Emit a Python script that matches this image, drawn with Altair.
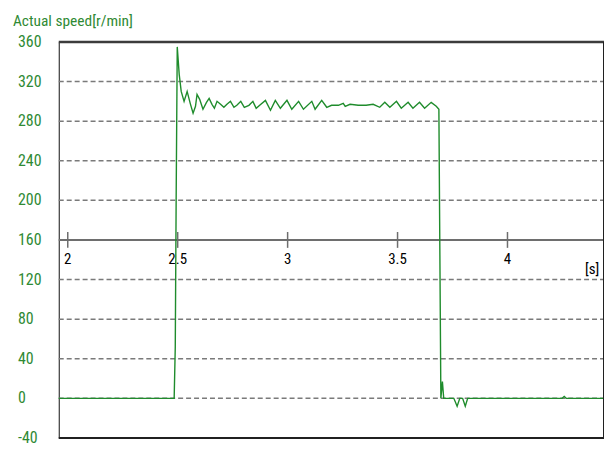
import altair as alt
import pandas as pd

# Signal samples (time [s], actual speed [r/min])
times = [1.959, 2.484, 2.489, 2.493, 2.498, 2.507, 2.516, 2.529, 2.543, 2.557,
         2.570, 2.581, 2.588, 2.600, 2.606, 2.615, 2.631, 2.643, 2.656, 2.667,
         2.679, 2.695, 2.710, 2.724, 2.740, 2.756, 2.769, 2.787, 2.803, 2.824,
         2.842, 2.857, 2.873, 2.899, 2.922, 2.944, 2.967, 2.997, 3.019, 3.050,
         3.072, 3.110, 3.125, 3.155, 3.178, 3.200, 3.231, 3.253, 3.262, 3.284,
         3.321, 3.357, 3.389, 3.419, 3.442, 3.465, 3.495, 3.517, 3.548, 3.570,
         3.600, 3.623, 3.653, 3.676, 3.688, 3.697, 3.704, 3.710, 3.756, 3.771,
         3.783, 3.796, 3.808, 3.819, 4.249, 4.258, 4.267, 4.439]
speeds = [0, 0, 52, 200, 355, 327, 310, 300, 310, 298,
          288, 295, 307, 302, 298, 292, 299, 303, 297, 293,
          300, 297, 294, 297, 300, 294, 296, 300, 294, 296,
          300, 293, 296, 301, 291, 301, 293, 301, 292, 300,
          292, 300, 292, 301, 294, 296, 296, 298, 295, 297,
          296, 296, 297, 294, 299, 294, 300, 293, 299, 293,
          299, 293, 299, 295, 292, 0, 17, 0, 0, -8,
          0, 0, -8, 0, 0, 2, 0, 0]

y_ticks = [-40, 0, 40, 80, 120, 160, 200, 240, 280, 320, 360]
y_tick_labels = ["-40", "0", "40", "80", "120", "160", "200", "240", "280", "320", "360"]
grid_values = [0, 40, 80, 120, 200, 240, 280, 320]
x_ticks = [2, 2.5, 3, 3.5, 4]
x_tick_labels = ["2", "2.5", "3", "3.5", "4"]
x_unit_label = ["[s]"]
x_unit_pos = [4.385]
y_unit_pos = [131]

X_DOMAIN = [1.959, 4.439]
Y_DOMAIN = [-40, 360]
AXIS_Y = 160

GREEN_TEXT = "#2f8a34"
GREEN_LINE = "#1f8c2c"
FONT = "Liberation Sans Narrow, Arial Narrow, Roboto Condensed, Roboto, sans-serif"

sig = pd.DataFrame({"t": times, "v": speeds})
ylab_df = pd.DataFrame({"t": [X_DOMAIN[0]] * len(y_ticks), "v": y_ticks, "lab": y_tick_labels})
grid_df = pd.DataFrame({"t": [X_DOMAIN[0]] * len(grid_values),
                        "t2": [X_DOMAIN[1]] * len(grid_values), "v": grid_values})
ticks_df = pd.DataFrame({"t": x_ticks, "lab": x_tick_labels, "y": [AXIS_Y] * len(x_ticks),
                         "y1": [AXIS_Y - 8] * len(x_ticks), "y2": [AXIS_Y + 8] * len(x_ticks)})
unit_df = pd.DataFrame({"t": x_unit_pos, "v": y_unit_pos, "lab": x_unit_label})
hline_df = pd.DataFrame({"t": [X_DOMAIN[0]], "t2": [X_DOMAIN[1]], "v": [AXIS_Y]})
top_df = pd.DataFrame({"t": [X_DOMAIN[0]], "t2": [X_DOMAIN[1]], "v": [Y_DOMAIN[1]]})
bot_df = pd.DataFrame({"t": [X_DOMAIN[0]], "t2": [X_DOMAIN[1]], "v": [Y_DOMAIN[0]]})
right_df = pd.DataFrame({"t": [X_DOMAIN[1]], "v": [Y_DOMAIN[0]], "v2": [Y_DOMAIN[1]]})

xs = alt.Scale(domain=X_DOMAIN, nice=False, zero=False)
ys = alt.Scale(domain=Y_DOMAIN, nice=False, zero=False)


def X(field):
    return alt.X(field, scale=xs, axis=None)


def Y(field):
    return alt.Y(field, scale=ys, axis=None)


grid = alt.Chart(grid_df).mark_rule(color="#7a7a7a", strokeWidth=1.5, strokeDash=[5, 3]).encode(
    x=X("t:Q"), x2="t2:Q", y=Y("v:Q"))

ylabels = alt.Chart(ylab_df).mark_text(
    font=FONT, fontSize=16, color=GREEN_TEXT, dx=-41, align="left", baseline="middle").encode(
    x=X("t:Q"), y=Y("v:Q"), text="lab:N")

hline = alt.Chart(hline_df).mark_rule(color="#6e6e6e", strokeWidth=2).encode(
    x=X("t:Q"), x2="t2:Q", y=Y("v:Q"))

tick_marks = alt.Chart(ticks_df).mark_rule(color="#6e6e6e", strokeWidth=1.5).encode(
    x=X("t:Q"), y=Y("y1:Q"), y2="y2:Q")

tick_text = alt.Chart(ticks_df).mark_text(
    font=FONT, fontSize=15, color="black", dy=19, align="center", baseline="middle").encode(
    x=X("t:Q"), y=Y("y:Q"), text="lab:N")

unit_text = alt.Chart(unit_df).mark_text(
    font=FONT, fontSize=15, color="black", align="center", baseline="middle").encode(
    x=X("t:Q"), y=Y("v:Q"), text="lab:N")

line = alt.Chart(sig).mark_line(color=GREEN_LINE, strokeWidth=1.4, interpolate="linear").encode(
    x=X("t:Q"), y=Y("v:Q"), order="t:Q")

top_rule = alt.Chart(top_df).mark_rule(color="#3c3c3c", strokeWidth=2.5).encode(
    x=X("t:Q"), x2="t2:Q", y=Y("v:Q"))
bot_rule = alt.Chart(bot_df).mark_rule(color="#202020", strokeWidth=2).encode(
    x=X("t:Q"), x2="t2:Q", y=Y("v:Q"))
right_rule = alt.Chart(right_df).mark_rule(color="#202020", strokeWidth=2).encode(
    x=X("t:Q"), y=Y("v:Q"), y2="v2:Q")

chart = alt.layer(grid, ylabels, hline, tick_marks, tick_text, unit_text, line,
                  top_rule, bot_rule, right_rule).properties(
    width=548, height=398,
    autosize="none",
    padding={"left": 51, "top": 33, "right": 0, "bottom": 10},
    title=alt.TitleParams("Actual speed[r/min]", anchor="start", frame="group",
                          font=FONT, fontSize=15.5, fontWeight="normal",
                          color=GREEN_TEXT, dx=-46, offset=5),
    background="white",
).configure_view(stroke="#101010", strokeWidth=1)

chart.save("out.html", embed_options={"renderer": "svg", "actions": False})
